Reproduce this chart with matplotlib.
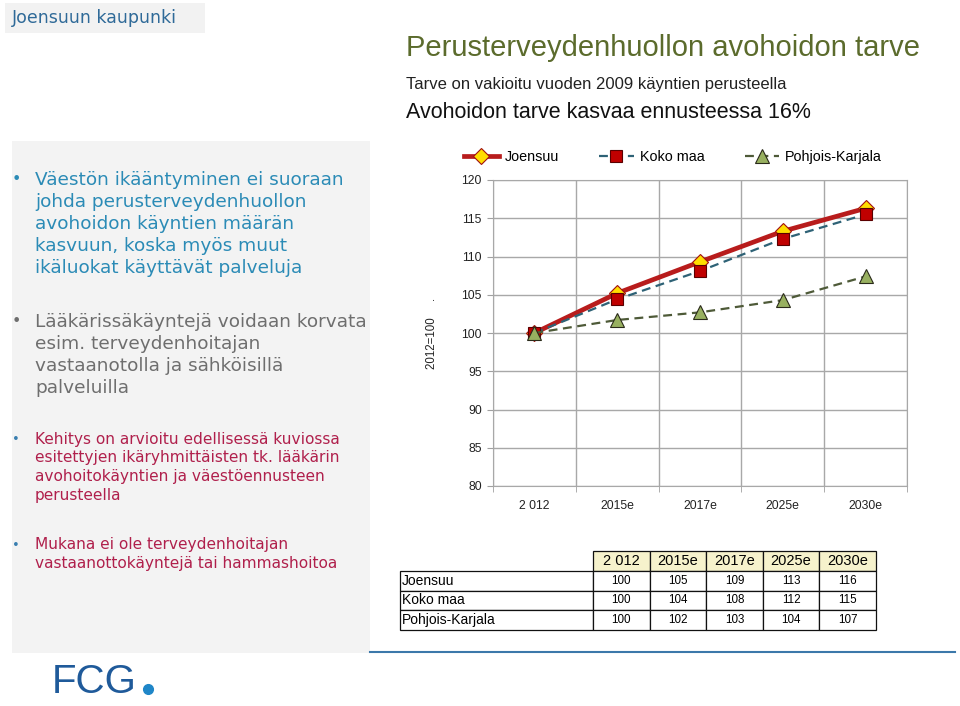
import matplotlib
matplotlib.use("Agg")
import matplotlib.pyplot as plt
from matplotlib.patches import Rectangle
from matplotlib.lines import Line2D

# data
categories = ["2 012", "2015e", "2017e", "2025e", "2030e"]
joensuu = [100, 105.2, 109.3, 113.3, 116.3]
koko_maa = [100, 104.4, 108.1, 112.3, 115.5]
pohjois_karjala = [100, 101.7, 102.7, 104.3, 107.4]

series_names = ["Joensuu", "Koko maa", "Pohjois-Karjala"]
table_values = [
    ["100", "105", "109", "113", "116"],
    ["100", "104", "108", "112", "115"],
    ["100", "102", "103", "104", "107"],
]

W, H = 960, 706
plt.rcParams['font.family'] = ['Liberation Sans', 'DejaVu Sans']


def fx(x):
    return x / W


def fy(y):
    return 1 - y / H


fig = plt.figure(figsize=(W / 100, H / 100), dpi=100)
fig.patch.set_facecolor('white')

# header box
fig.patches.append(Rectangle((fx(5), fy(33)), fx(200), 30 / H, transform=fig.transFigure,
                             facecolor='#f2f2f2', edgecolor='none'))
fig.text(fx(12), fy(18), "Joensuun kaupunki", fontsize=12.5, color='#2f6a98', va='center',
         family='DejaVu Sans')

# titles
fig.text(fx(406), fy(48), "Perusterveydenhuollon avohoidon tarve", fontsize=21,
         color='#5b6b2c', va='center')
fig.text(fx(406), fy(85), "Tarve on vakioitu vuoden 2009 käyntien perusteella", fontsize=12,
         color='#222222', va='center')
fig.text(fx(406), fy(112), "Avohoidon tarve kasvaa ennusteessa 16%", fontsize=15.5,
         color='#111111', va='center')

# left text panel
fig.patches.append(Rectangle((fx(12), fy(653)), (370 - 12) / W, (653 - 141) / H,
                             transform=fig.transFigure, facecolor='#f3f3f3', edgecolor='none'))

bullets = [
    (["Väestön ikääntyminen ei suoraan", "johda perusterveydenhuollon", "avohoidon käyntien määrän",
      "kasvuun, koska myös muut", "ikäluokat käyttävät palveluja"], 180, 22, '#2b8bb6', '#2b8bb6', 13.3),
    (["Lääkärissäkäyntejä voidaan korvata", "esim. terveydenhoitajan",
      "vastaanotolla ja sähköisillä", "palveluilla"], 322, 22, '#6e6e6e', '#6e6e6e', 13.3),
    (["Kehitys on arvioitu edellisessä kuviossa", "esitettyjen ikäryhmittäisten tk. lääkärin",
      "avohoitokäyntien ja väestöennusteen", "perusteella"], 439, 18.7, '#b0204c', '#3a7fb0', 11.1),
    (["Mukana ei ole terveydenhoitajan", "vastaanottokäyntejä tai hammashoitoa"], 545, 18.7,
     '#b0204c', '#3a7fb0', 11.1),
]
for lines, y0, step, col, bcol, fs in bullets:
    fig.text(fx(12), fy(y0), "•", fontsize=fs * 0.85, color=bcol, va='center', family='DejaVu Sans')
    for i, ln in enumerate(lines):
        fig.text(fx(35), fy(y0 + i * step), ln, fontsize=fs, color=col, va='center',
                 family='DejaVu Sans')

# chart
ax = fig.add_axes([fx(493), fy(486), (907 - 493) / W, (486 - 180) / H])
x = list(range(len(categories)))
ax.plot(x, joensuu, color='#b81c1c', lw=3.4, marker='D', markersize=8.5,
        markerfacecolor='#ffdd00', markeredgecolor='#a01010', markeredgewidth=0.8,
        label=series_names[0], zorder=3)
ax.plot(x, koko_maa, color='#2e6276', lw=1.6, ls=(0, (4, 2.5)), marker='s', markersize=8.5,
        markerfacecolor='#c00000', markeredgecolor='#5a0000', markeredgewidth=0.8,
        label=series_names[1], zorder=4)
ax.plot(x, pohjois_karjala, color='#4e5a38', lw=1.6, ls=(0, (4, 2.5)), marker='^', markersize=10,
        markerfacecolor='#98b060', markeredgecolor='#2a2a1a', markeredgewidth=0.8,
        label=series_names[2], zorder=5)

ax.set_xlim(-0.5, len(categories) - 0.5)
ax.set_ylim(80, 120)
ax.set_yticks(range(80, 121, 5))
ax.set_xticks(x)
ax.set_xticklabels(categories)
ax.set_xticks([i - 0.5 for i in range(len(categories) + 1)], minor=True)
ax.tick_params(axis='x', which='major', length=0, pad=10, labelsize=8.8, colors='#222222')
ax.tick_params(axis='x', which='minor', length=4, color='#a0a0a0')
ax.tick_params(axis='y', length=4, color='#a0a0a0', labelsize=8.8, labelcolor='#222222', pad=4)
ax.grid(True, axis='y', color='#a8a8a8', lw=1)
ax.grid(True, axis='x', which='minor', color='#a8a8a8', lw=1)
for s in ax.spines.values():
    s.set_color('#a8a8a8')
ax.set_ylabel("2012=100     .", fontsize=8.3, color='#222222', labelpad=17)

leg = ax.legend(loc='center', bbox_to_anchor=(fx(673), fy(157)), bbox_transform=fig.transFigure,
                ncol=3, frameon=False, fontsize=10.4, handlelength=2.4, columnspacing=2.8,
                handletextpad=0.4)

# data table
tax = fig.add_axes([fx(400), fy(630), (876 - 400) / W, (630 - 551) / H])
tax.axis('off')
cell_text = [[name] + vals for name, vals in zip(series_names, table_values)]
col_w = [193] + [56.6] * len(categories)
tot = sum(col_w)
tbl = tax.table(cellText=cell_text, colLabels=[""] + categories,
                colWidths=[c / tot for c in col_w], bbox=[0, 0, 1, 1], cellLoc='center')
tbl.auto_set_font_size(False)
for (r, c), cell in tbl.get_celld().items():
    cell.set_linewidth(0.9)
    cell.set_edgecolor('#111111')
    if r == 0:
        if c == 0:
            cell.visible_edges = 'open'
        else:
            cell.set_facecolor('#f6f2cc')
            cell.get_text().set_fontsize(10.5)
    else:
        if c == 0:
            cell.PAD = 0.01
            cell.get_text().set_ha('left')
            cell.get_text().set_fontsize(10)
            cell._loc = 'left'
        else:
            cell.get_text().set_fontsize(8.4)

# footer
fig.add_artist(Line2D([fx(370), fx(955)], [fy(652), fy(652)], color='#3c78aa', lw=1.5))
fig.text(fx(52), fy(682), "FCG", fontsize=29, color='#1f5a9a', va='center')
fig.add_artist(Line2D([fx(148)], [fy(689)], marker='o', markersize=7, color='#1f86c8', lw=0))

fig.savefig('out.png', dpi=100)
